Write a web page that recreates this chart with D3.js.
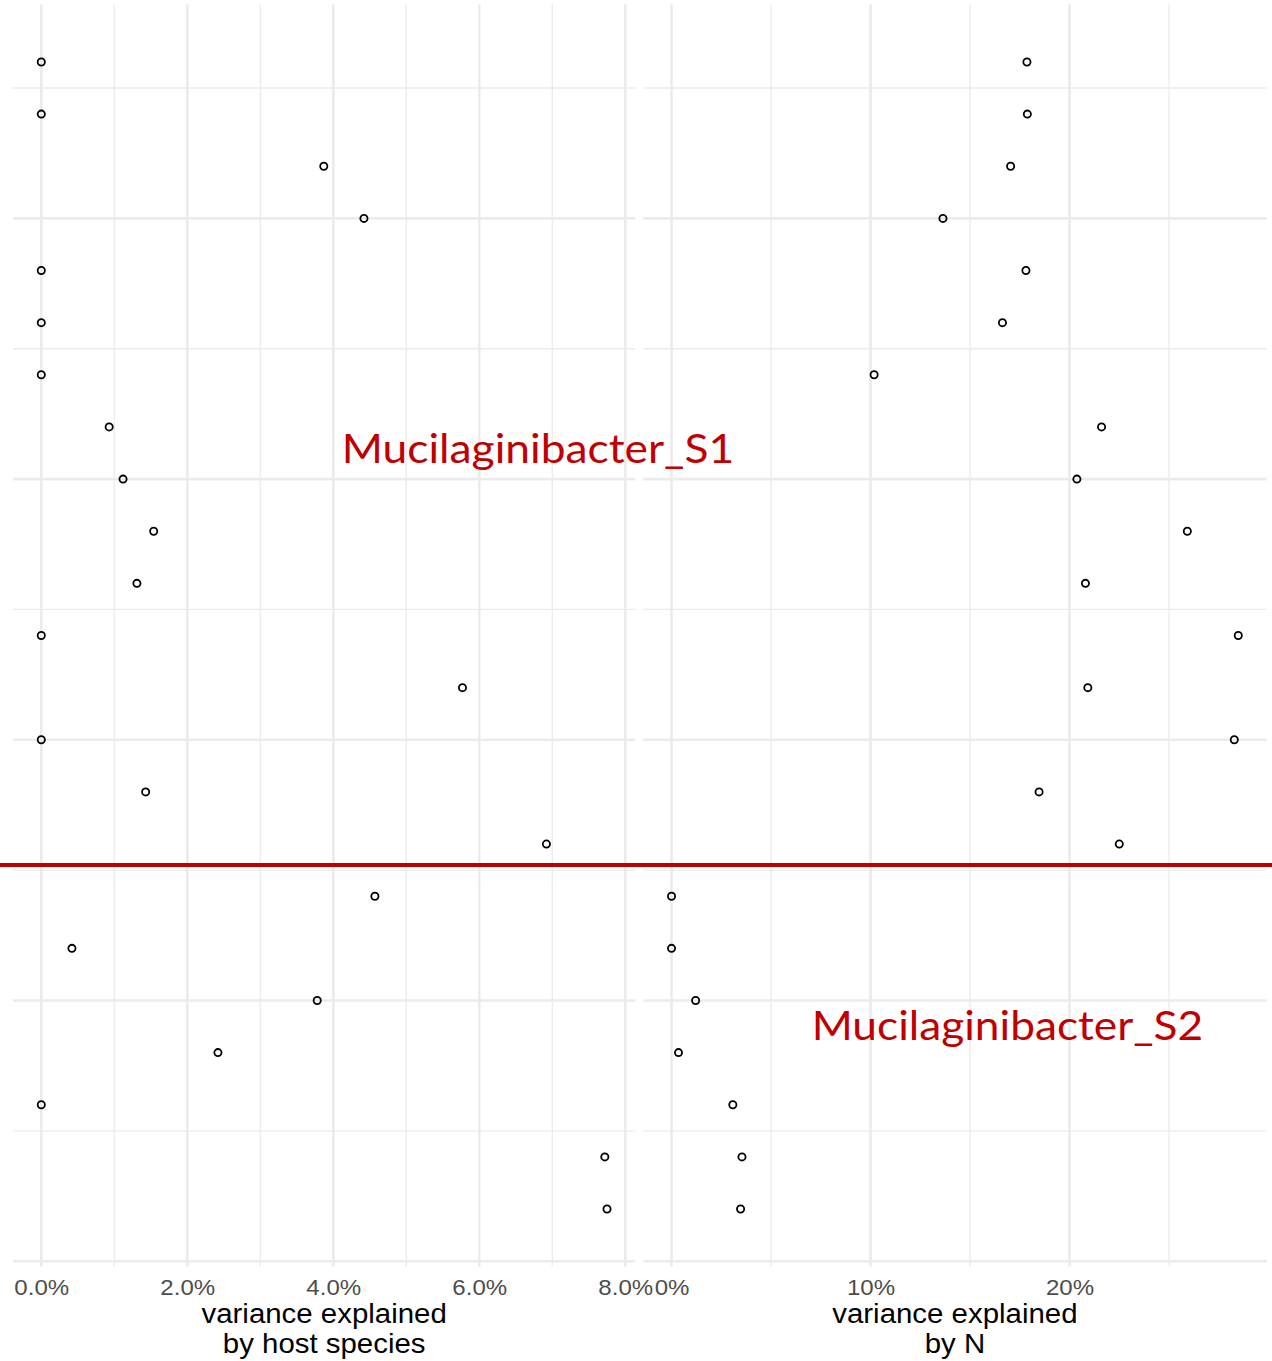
<!DOCTYPE html>
<html>
<head>
<meta charset="utf-8">
<script src="https://cdn.jsdelivr.net/npm/d3@7"></script>
<style>
  html, body { margin: 0; padding: 0; background: #ffffff; }
  svg { display: block; }
</style>
</head>
<body>
<svg id="chart" width="1272" height="1361"></svg>
<script>
// ---- data ----
const rows = [23, 22, 21, 20, 19, 18, 17, 16, 15, 14, 13, 12, 11, 10, 9, 8, 7, 6, 5, 4, 3, 2, 1];
const hostSpecies = [0, 0, 3.87, 4.42, 0, 0, 0, 0.93, 1.12, 1.54, 1.31, 0, 5.77, 0, 1.43, 6.92,
                     4.57, 0.42, 3.78, 2.42, 0, 7.72, 7.75];
const byN = [17.86, 17.88, 17.04, 13.64, 17.81, 16.63, 10.18, 21.61, 20.37, 25.92, 20.80, 28.48, 20.92, 28.28, 18.47, 22.50,
             0, 0, 1.21, 0.35, 3.08, 3.54, 3.47];
const leftTicks = [0, 2, 4, 6, 8];
const leftTickLabels = ["0.0%", "2.0%", "4.0%", "6.0%", "8.0%"];
const leftMinor = [1, 3, 5, 7];
const rightTicks = [0, 10, 20];
const rightTickLabels = ["0%", "10%", "20%"];
const rightMinor = [5, 15, 25];
const yMajor = [0, 5, 10, 15, 20];
const yMinor = [2.5, 7.5, 12.5, 17.5, 22.5];
const leftTitle = ["variance explained", "by host species"];
const rightTitle = ["variance explained", "by N"];
const groupLabels = ["Mucilaginibacter_S1", "Mucilaginibacter_S2"];
const groupBoundary = 7.6; // separator between row 8 and row 7 (row units)

const svg = d3.select("#chart");
const panelTop = 4.6, panelBottom = 1266.4;

const y = d3.scaleLinear().domain([-0.1, 24.1]).range([panelBottom, panelTop]);

function expanded(vals) {
  const [a, b] = d3.extent(vals);
  const pad = (b - a) * 0.05;
  return [a - pad, b + pad];
}

const xL = d3.scaleLinear().domain(expanded(hostSpecies)).range([13.0, 635.3]);
const xR = d3.scaleLinear().domain(expanded(byN)).range([643.2, 1266.6]);

const GRID = "#ebebeb";

function drawPanel(x, values, ticks, tickLabels, minor, title) {
  const [x0, x1] = x.range();
  const g = svg.append("g");
  // minor grid
  g.selectAll(".hmin").data(yMinor).join("line")
    .attr("x1", x0).attr("x2", x1).attr("y1", d => y(d)).attr("y2", d => y(d))
    .attr("stroke", GRID).attr("stroke-width", 1.3);
  g.selectAll(".vmin").data(minor).join("line")
    .attr("x1", d => x(d)).attr("x2", d => x(d)).attr("y1", panelTop).attr("y2", panelBottom)
    .attr("stroke", GRID).attr("stroke-width", 1.3);
  // major grid
  g.selectAll(".hmaj").data(yMajor).join("line")
    .attr("x1", x0).attr("x2", x1).attr("y1", d => y(d)).attr("y2", d => y(d))
    .attr("stroke", GRID).attr("stroke-width", 2.6);
  g.selectAll(".vmaj").data(ticks).join("line")
    .attr("x1", d => x(d)).attr("x2", d => x(d)).attr("y1", panelTop).attr("y2", panelBottom)
    .attr("stroke", GRID).attr("stroke-width", 2.6);

  // points
  g.selectAll("circle").data(values).join("circle")
    .attr("cx", d => x(d)).attr("cy", (d, i) => y(rows[i]))
    .attr("r", 3.6).attr("fill", "none").attr("stroke", "#000").attr("stroke-width", 1.8);

  // axis tick labels
  const axis = d3.axisBottom(x).tickValues(ticks).tickSize(0)
    .tickFormat((d, i) => tickLabels[i]);
  const ag = svg.append("g").attr("transform", `translate(0,${panelBottom})`).call(axis);
  ag.select(".domain").remove();
  ag.selectAll("text")
    .attr("y", 1295 - panelBottom).attr("dy", 0)
    .attr("transform", "scale(1.12,1)")
    .style("font-family", "'Liberation Sans', Arial, sans-serif")
    .style("font-size", "21.5px")
    .attr("fill", "#4d4d4d");

  // axis title
  const cx = (x0 + x1) / 2;
  const tg = svg.append("g").attr("transform", `translate(${cx},0) scale(1.07,1)`);
  tg.selectAll("text").data(title).join("text")
    .attr("x", 0).attr("y", (d, i) => 1322.7 + i * 30)
    .attr("text-anchor", "middle")
    .style("font-family", "'Liberation Sans', Arial, sans-serif")
    .style("font-size", "27.5px")
    .attr("fill", "#000")
    .text(d => d);
}

drawPanel(xL, hostSpecies, leftTicks, leftTickLabels, leftMinor, leftTitle);
drawPanel(xR, byN, rightTicks, rightTickLabels, rightMinor, rightTitle);

// red separator line between the groups
const RED = "#c00000";
svg.append("line")
  .attr("x1", 0).attr("x2", 1272)
  .attr("y1", y(groupBoundary)).attr("y2", y(groupBoundary))
  .attr("stroke", RED).attr("stroke-width", 4);

// group labels
const labelPos = [{x: 341.7, y: 463.3, w: 392.6}, {x: 811.7, y: 1040, w: 391.6}];
svg.selectAll(".glabel").data(groupLabels).join("text")
  .attr("class", "glabel")
  .attr("x", (d, i) => labelPos[i].x).attr("y", (d, i) => labelPos[i].y)
  .attr("textLength", (d, i) => labelPos[i].w)
  .attr("lengthAdjust", "spacingAndGlyphs")
  .style("font-family", "Lato, 'Open Sans', sans-serif")
  .style("font-size", "41px")
  .attr("fill", RED)
  .text(d => d);
</script>
</body>
</html>
